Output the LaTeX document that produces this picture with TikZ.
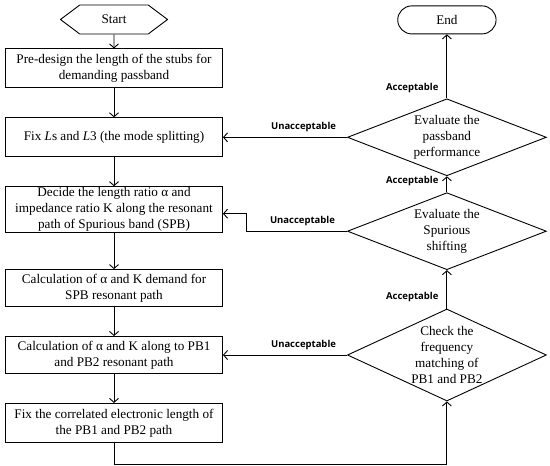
\documentclass[tikz,border=0pt]{standalone}
\usepackage{fontspec}
\setmainfont{Liberation Serif}
\newfontfamily\labelfont{Open Sans}
\usepackage{tikz}
\usetikzlibrary{
  arrows.meta,
  positioning,
  shapes.geometric,
  shapes.symbols,
  shapes.misc
}

\begin{document}
\begin{tikzpicture}[
  x=1pt, y=1pt,
  font=\fontsize{13.2}{16}\selectfont,
  >={Straight Barb[length=4pt,width=9pt]},
  line width=0.9pt,
  box/.style={draw, align=center, inner sep=1pt,
              minimum width=217pt, minimum height=#1},
  box/.default=39pt,
  cond/.style={draw, diamond, align=center, inner sep=0pt,
               minimum width=199pt},
  arr/.style={->},
  lbl/.style={font=\labelfont\bfseries\fontsize{9.5}{11}\selectfont, inner sep=1pt},
]
  \useasboundingbox (0,0) rectangle (550,-466);

  \node[draw, signal, signal to=west and east, signal pointer angle=74,
        minimum width=107pt, minimum height=29pt] (start) at (114,-19.5) {Start};
  \node[box, below=14pt of start] (pre) {Pre-design the length of the stubs for\\demanding passband};
  \node[box, below=29pt of pre] (fix) {Fix \textit{L}s and \textit{L}3 (the mode splitting)};
  \node[box=46pt, below=29pt of fix] (ratio) {Decide the length ratio α and\\impedance ratio K along the resonant\\path of Spurious band (SPB)};
  \node[box=37pt, below=36pt of ratio] (spb) {Calculation of α and K demand for\\SPB resonant path};
  \node[box=37pt, below=29pt of spb] (pb) {Calculation of α and K along to PB1\\and PB2 resonant path};
  \node[box, below=29pt of pb] (elen) {Fix the correlated electronic length of\\the PB1 and PB2 path};

  \draw[arr] (start) -- (pre);
  \draw[arr] (pre) -- (fix);
  \draw[arr] (fix) -- (ratio);
  \draw[arr] (ratio) -- (spb);
  \draw[arr] (spb) -- (pb);
  \draw[arr] (pb) -- (elen);

  % decisions
  \node[cond, aspect=2.6, minimum height=77pt, right=124pt of fix] (pass) {Evaluate the\\passband\\performance};
  \node[cond, aspect=2.6, minimum height=77pt, below=16pt of pass] (spur) {Evaluate the\\Spurious\\shifting};
  \node[cond, aspect=2.16, minimum height=92pt, right=124pt of pb] (match) {Check the\\frequency\\matching of\\PB1 and PB2};
  \node[draw, rounded rectangle, minimum width=105pt, minimum height=28pt,
        above=64pt of pass] (fin) {End};

  \draw[arr] (elen.south) -- ++(0,-22pt) -| (match.south);
  \draw[arr] (match.north) -- node[lbl, left=7pt, pos=0.31] {Acceptable} (spur.south);
  \draw[arr] (spur.north) -- node[lbl, left=7pt, pos=0.69] {Acceptable} (pass.south);
  \draw[arr] (pass.north) -- node[lbl, left=7pt, pos=0.16] {Acceptable} (fin.south);

  \draw[arr] (pass.west) -- node[lbl, above=4pt, pos=0.35] {Unacceptable} (fix.east);
  \draw[arr] (spur.west) -- node[lbl, above=4pt, pos=0.44] {Unacceptable} ++(-101pt,0)
    |- ([yshift=-4pt]ratio.east);
  \draw[arr] (match.west) -- node[lbl, above=4pt, pos=0.35] {Unacceptable} (pb.east);
\end{tikzpicture}
\end{document}
